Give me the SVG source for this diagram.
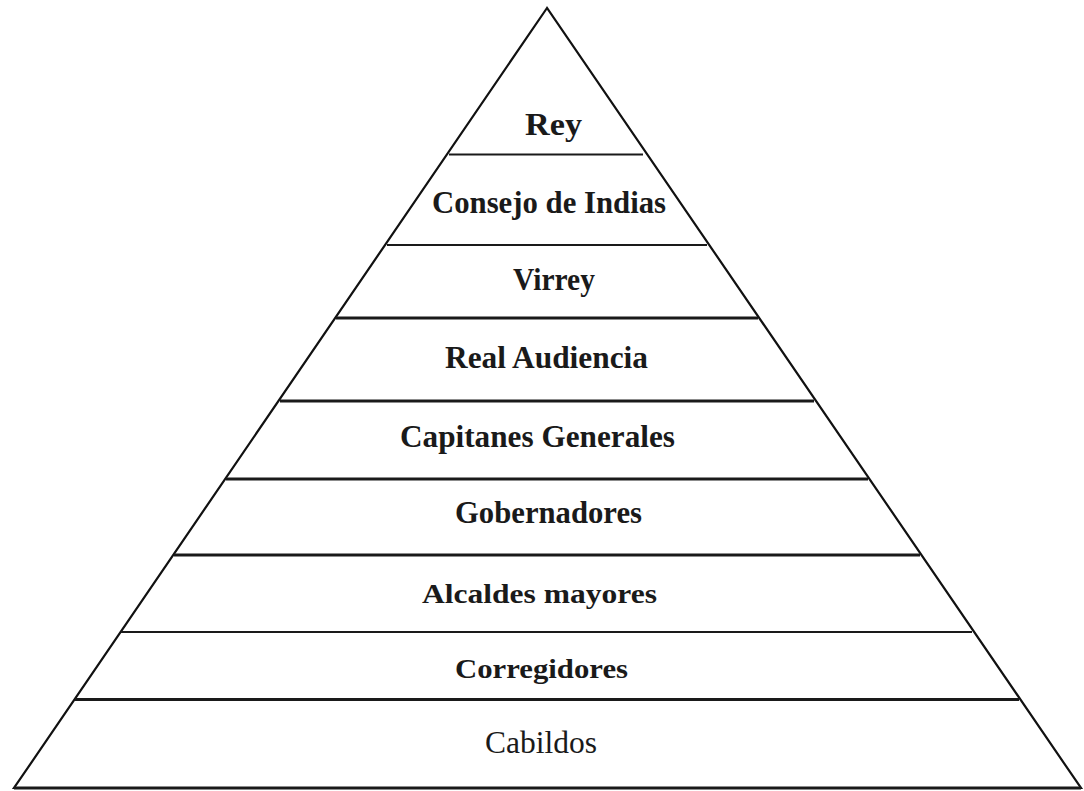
<svg xmlns="http://www.w3.org/2000/svg" width="1084" height="791" viewBox="0 0 1084 791">
<style>
.lbl{font-family:"Liberation Serif","Times New Roman",serif;font-size:32px;font-weight:bold;fill:#1a1a1a}
.reg{font-weight:normal}
.sm{font-size:28px}
.thin{stroke:#1a1a1a;stroke-width:2;fill:none}
.thick{stroke:#1a1a1a;stroke-width:3.2;fill:none}
.outline{stroke:#111;stroke-width:2.2;fill:#fff;stroke-linejoin:miter}
</style>
<rect width="1084" height="791" fill="#fff"/>
<polygon class="outline" points="547,8 14,788 1081,788"/>
<g id="connectors">
<line class="thin" x1="449" y1="154.5" x2="643" y2="154.5"/>
<line class="thin" x1="387" y1="245" x2="707" y2="245"/>
<line class="thick" x1="336" y1="318" x2="758" y2="318"/>
<line class="thick" x1="280" y1="401" x2="814" y2="401"/>
<line class="thick" x1="226" y1="479" x2="868" y2="479"/>
<line class="thick" x1="174" y1="555" x2="920" y2="555"/>
<line class="thin" x1="121" y1="632" x2="972" y2="632"/>
<line class="thick" x1="75" y1="699.5" x2="1019" y2="699.5"/>
<line class="thick" x1="14" y1="788" x2="1081" y2="788"/>
</g>
<g id="rey"><text class="lbl" x="525" y="135" textLength="57" lengthAdjust="spacingAndGlyphs">Rey</text></g>
<g id="consejo-de-indias"><text class="lbl" x="432" y="213" textLength="234" lengthAdjust="spacingAndGlyphs">Consejo de Indias</text></g>
<g id="virrey"><text class="lbl" x="513" y="290" textLength="82" lengthAdjust="spacingAndGlyphs">Virrey</text></g>
<g id="real-audiencia"><text class="lbl" x="445" y="368" textLength="203" lengthAdjust="spacingAndGlyphs">Real Audiencia</text></g>
<g id="capitanes-generales"><text class="lbl" x="400" y="447" textLength="275" lengthAdjust="spacingAndGlyphs">Capitanes Generales</text></g>
<g id="gobernadores"><text class="lbl" x="455" y="523" textLength="187" lengthAdjust="spacingAndGlyphs">Gobernadores</text></g>
<g id="alcaldes-mayores"><text class="lbl sm" x="422" y="603" textLength="235" lengthAdjust="spacingAndGlyphs">Alcaldes mayores</text></g>
<g id="corregidores"><text class="lbl sm" x="455" y="678" textLength="173" lengthAdjust="spacingAndGlyphs">Corregidores</text></g>
<g id="cabildos"><text class="lbl reg" x="485" y="753" textLength="112" lengthAdjust="spacingAndGlyphs">Cabildos</text></g>
</svg>
